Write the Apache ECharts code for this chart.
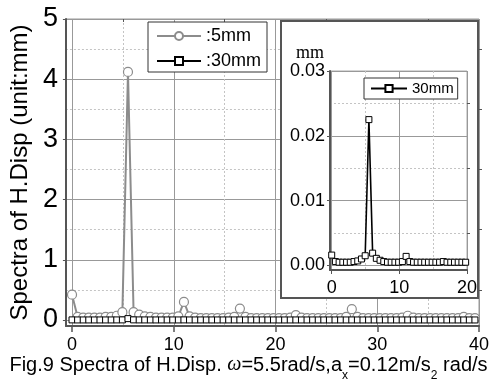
<!DOCTYPE html>
<html>
<head>
<meta charset="utf-8">
<script src="https://cdn.jsdelivr.net/npm/echarts@6/dist/echarts.min.js"></script>
<style>
  html, body { margin: 0; padding: 0; background: #fff; }
  #chart { width: 497px; height: 381px; }
</style>
</head>
<body>
<div id="chart"></div>
<script>
// Frequency bins (rad/s)
const freq = [0, 0.55, 1.1, 1.65, 2.2, 2.75, 3.3, 3.85, 4.4, 4.95,
  5.5, 6.05, 6.6, 7.15, 7.7, 8.25, 8.8, 9.35, 9.9, 10.45,
  11, 11.55, 12.1, 12.65, 13.2, 13.75, 14.3, 14.85, 15.4, 15.95,
  16.5, 17.05, 17.6, 18.15, 18.7, 19.25, 19.8, 20.35, 20.9, 21.45,
  22, 22.55, 23.1, 23.65, 24.2, 24.75, 25.3, 25.85, 26.4, 26.95,
  27.5, 28.05, 28.6, 29.15, 29.7, 30.25, 30.8, 31.35, 31.9, 32.45,
  33, 33.55, 34.1, 34.65, 35.2, 35.75, 36.3, 36.85, 37.4, 37.95,
  38.5, 39.05, 39.6];

// Spectrum amplitude, 5mm case (mm)
const amp5mm = [0.42, 0.05, 0.04, 0.04, 0.04, 0.04, 0.05, 0.05, 0.07, 0.13,
  4.12, 0.13, 0.09, 0.06, 0.05, 0.04, 0.04, 0.04, 0.04, 0.06,
  0.30, 0.06, 0.04, 0.03, 0.03, 0.03, 0.03, 0.03, 0.04, 0.05,
  0.19, 0.05, 0.03, 0.03, 0.03, 0.03, 0.03, 0.03, 0.03, 0.04,
  0.08, 0.04, 0.03, 0.03, 0.03, 0.03, 0.03, 0.03, 0.03, 0.05,
  0.18, 0.05, 0.03, 0.03, 0.03, 0.03, 0.03, 0.03, 0.03, 0.04,
  0.07, 0.04, 0.03, 0.03, 0.03, 0.03, 0.03, 0.03, 0.03, 0.03,
  0.05, 0.03, 0.03];

// Spectrum amplitude, 30mm case (mm)
const amp30mm = [0.0016, 0.0006, 0.0005, 0.0005, 0.0005, 0.0005, 0.0006, 0.0007, 0.0010, 0.0015,
  0.0225, 0.0019, 0.0011, 0.0008, 0.0006, 0.0005, 0.0005, 0.0005, 0.0005, 0.0006,
  0.0014, 0.0006, 0.0005, 0.0005, 0.0005, 0.0005, 0.0005, 0.0005, 0.0005, 0.0005,
  0.0006, 0.0005, 0.0005, 0.0005, 0.0005, 0.0005, 0.0005, 0.0004, 0.0004, 0.0004,
  0.0005, 0.0004, 0.0004, 0.0004, 0.0004, 0.0004, 0.0004, 0.0004, 0.0004, 0.0004,
  0.0005, 0.0004, 0.0004, 0.0004, 0.0004, 0.0004, 0.0004, 0.0004, 0.0004, 0.0004,
  0.0004, 0.0004, 0.0004, 0.0004, 0.0004, 0.0004, 0.0004, 0.0004, 0.0004, 0.0004,
  0.0004, 0.0004, 0.0004];

// Tick positions
const mainXMajor = [0, 10, 20, 30, 40];
const mainXMinor = [5, 15, 25, 35];
const mainYMajor = [0, 1, 2, 3, 4, 5];
const mainYMinor = [0.5, 1.5, 2.5, 3.5, 4.5];
const insetXMajor = [0, 10, 20];
const insetXMinor = [5, 15];
const insetYMajor = [0, 0.01, 0.02, 0.03];
const insetYMinor = [0.005, 0.015, 0.025];

const FONT = "'Liberation Sans', Arial, sans-serif";

const pairs = (xs, ys) => xs.map((x, i) => [x, ys[i]]);

function majorAxis(extra) {
  return Object.assign({
    type: 'value',
    axisLine: { show: true, onZero: false, lineStyle: { color: '#555', width: 2 } },
    splitLine: { show: true, lineStyle: { color: '#999', width: 1, type: 'solid' } },
    axisLabel: { color: '#000', fontFamily: FONT },
  }, extra);
}
function minorAxis(extra) {
  return Object.assign({
    type: 'value',
    axisLine: { show: false, onZero: false },
    axisLabel: { show: false },
    splitLine: { show: true, lineStyle: { color: '#c4c4c4', width: 1, type: [2, 2] } },
  }, extra);
}

const chart = echarts.init(document.getElementById('chart'), null, { renderer: 'canvas' });

chart.setOption({
  animation: false,
  backgroundColor: '#fff',
  title: {
    left: 'center',
    top: 350,
    text: '{t|Fig.9 Spectra of H.Disp. }{w|ω}{t|=5.5rad/s,a}{s|x}{t|=0.12m/s}{s|2}{t| rad/s}',
    textStyle: {
      fontWeight: 'normal',
      rich: {
        t: { fontFamily: FONT, fontSize: 20, fontWeight: 'normal', color: '#000', lineHeight: 20, verticalAlign: 'top' },
        w: { fontFamily: "'Liberation Serif', serif", fontStyle: 'italic', fontWeight: 'normal', fontSize: 20, color: '#000', lineHeight: 20, verticalAlign: 'top' },
        s: { fontFamily: FONT, fontSize: 12, fontWeight: 'normal', color: '#000', lineHeight: 12, padding: [15, 0, 0, 0], verticalAlign: 'top' }
      }
    }
  },
  graphic: [{
    type: 'rect',
    z: 6,
    shape: { x: 281, y: 21, width: 197, height: 277 },
    style: { fill: '#fff', stroke: '#555', lineWidth: 2 }
  }],
  legend: [{
    data: [':5mm', ':30mm'],
    orient: 'vertical',
    left: 148, top: 22,
    itemWidth: 44, itemHeight: 10, itemGap: 5,
    padding: [4, 6, 1, 8],
    borderColor: '#333', borderWidth: 1,
    backgroundColor: '#fff',
    selectedMode: false,
    textStyle: { fontFamily: FONT, fontSize: 18, color: '#000', lineHeight: 20 },
    z: 4
  }, {
    data: ['30mm'],
    left: 364, top: 78,
    itemWidth: 36, itemHeight: 9,
    padding: [2, 4, 2, 6],
    borderColor: '#333', borderWidth: 1,
    backgroundColor: '#fff',
    selectedMode: false,
    textStyle: { fontFamily: FONT, fontSize: 15, color: '#000', lineHeight: 17 },
    z: 12
  }],
  grid: [
    { left: 60, top: 19, right: 18, bottom: 55, show: true, borderColor: '#999', borderWidth: 1, backgroundColor: 'transparent' },
    { left: 330, top: 71, right: 30, bottom: 111, show: true, borderColor: '#aaa', borderWidth: 1, backgroundColor: '#fff', z: 10 }
  ],
  xAxis: [
    majorAxis({
      gridIndex: 0, min: -0.6, max: 40,
      axisTick: { show: true, inside: false, length: 6, customValues: mainXMajor, lineStyle: { color: '#555', width: 1.5 } },
      axisLabel: { color: '#000', fontFamily: FONT, fontSize: 18, margin: 10, customValues: mainXMajor }
    }),
    minorAxis({
      gridIndex: 0, min: -0.6, max: 40,
      axisTick: { show: true, inside: true, length: 3, customValues: mainXMinor, lineStyle: { color: '#555' } },
      axisLabel: { show: false, customValues: mainXMinor }
    }),
    majorAxis({
      gridIndex: 1, min: -0.25, max: 20, z: 10,
      axisTick: { show: true, inside: false, length: 4, customValues: insetXMajor, lineStyle: { color: '#555' } },
      axisLabel: { color: '#000', fontFamily: FONT, fontSize: 18, margin: 9, customValues: insetXMajor }
    }),
    minorAxis({
      gridIndex: 1, min: -0.25, max: 20, z: 10,
      axisTick: { show: false, customValues: insetXMinor },
      axisLabel: { show: false, customValues: insetXMinor }
    })
  ],
  yAxis: [
    majorAxis({
      gridIndex: 0, min: -0.1, max: 5,
      name: 'Spectra of H.Disp (unit:mm)',
      nameLocation: 'middle', nameGap: 33,
      nameTextStyle: { fontFamily: FONT, fontSize: 24, color: '#000' },
      axisTick: { show: true, inside: false, length: 3, customValues: mainYMajor, lineStyle: { color: '#555' } },
      axisLabel: { color: '#000', fontFamily: FONT, fontSize: 27, margin: 8, customValues: mainYMajor }
    }),
    minorAxis({
      gridIndex: 0, min: -0.1, max: 5,
      axisTick: { show: true, inside: false, length: 3, customValues: mainYMinor, lineStyle: { color: '#555' } },
      axisLabel: { show: false, customValues: mainYMinor }
    }),
    majorAxis({
      gridIndex: 1, min: -0.0007, max: 0.03, z: 10,
      name: 'mm',
      nameLocation: 'end', nameGap: 2,
      nameTextStyle: { fontFamily: "'Liberation Serif', serif", fontSize: 18, color: '#000', align: 'right', padding: [0, 6, 0, 0] },
      axisTick: { show: true, inside: false, length: 3, customValues: insetYMajor, lineStyle: { color: '#555' } },
      axisLabel: { color: '#000', fontFamily: FONT, fontSize: 18, margin: 5, customValues: insetYMajor, formatter: v => v.toFixed(2) }
    }),
    minorAxis({
      gridIndex: 1, min: -0.0007, max: 0.03, z: 10,
      axisTick: { show: true, inside: false, length: 3, customValues: insetYMinor, lineStyle: { color: '#555' } },
      axisLabel: { show: false, customValues: insetYMinor }
    })
  ],
  series: [
    {
      name: ':5mm', type: 'line', xAxisIndex: 0, yAxisIndex: 0, z: 2,
      data: pairs(freq, amp5mm),
      symbol: 'circle', symbolSize: 9, showAllSymbol: true,
      lineStyle: { color: '#8c8c8c', width: 2 },
      itemStyle: { color: '#fff', borderColor: '#8c8c8c', borderWidth: 1.2 }
    },
    {
      name: ':30mm', type: 'line', xAxisIndex: 0, yAxisIndex: 0, z: 3,
      data: pairs(freq, amp30mm),
      symbol: 'rect', symbolSize: 6, showAllSymbol: true,
      lineStyle: { color: '#000', width: 1.6 },
      itemStyle: { color: '#fff', borderColor: '#000', borderWidth: 1 }
    },
    {
      name: '30mm', type: 'line', xAxisIndex: 2, yAxisIndex: 2, z: 12,
      data: pairs(freq, amp30mm),
      symbol: 'rect', symbolSize: 6, showAllSymbol: true,
      lineStyle: { color: '#000', width: 1.6 },
      itemStyle: { color: '#fff', borderColor: '#000', borderWidth: 1 }
    }
  ]
});
</script>
</body>
</html>
